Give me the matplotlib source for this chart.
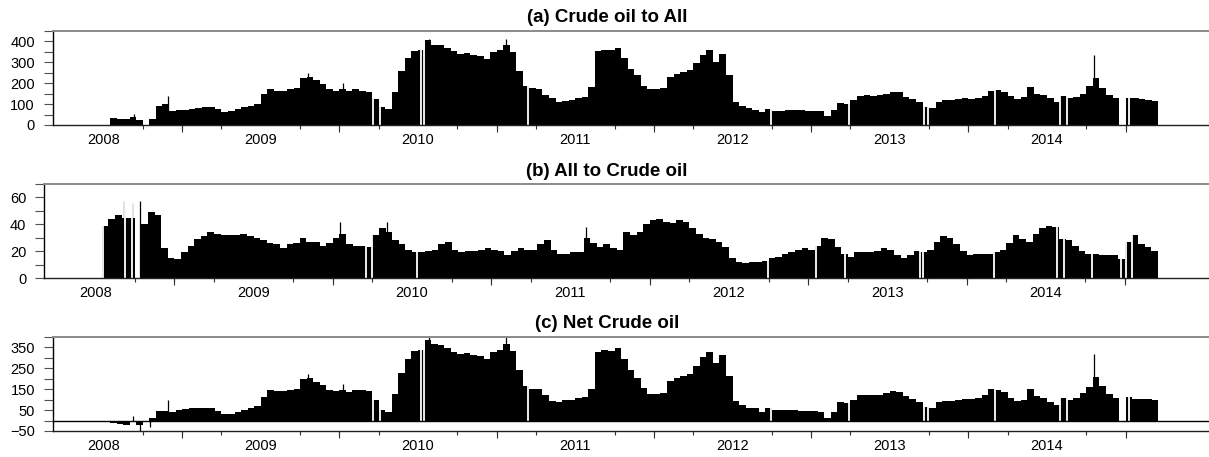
import numpy as np
import matplotlib
matplotlib.use("Agg")
import matplotlib.pyplot as plt
from matplotlib.ticker import FixedLocator

plt.rcParams['font.family'] = ['Liberation Sans', 'DejaVu Sans']

# ---- data: semi-monthly levels starting Jan 2008 (decimal-year grid, 24 per year) ----
start_year = 2008.0
per_year = 24

crude_to_all = [
    # 2008
    0, 35, 28, 30, 40, 25, 0, 30, 90, 100, 65, 70, 70, 78, 82, 85, 85, 75, 60, 65, 75, 85, 92, 100,
    # 2009
    150, 170, 165, 165, 170, 175, 225, 230, 215, 195, 170, 165, 170, 165, 170, 165, 160, 125, 85, 78, 160, 260, 320, 355,
    # 2010
    360, 405, 385, 385, 370, 355, 340, 345, 335, 330, 315, 350, 360, 385, 350, 260, 185, 175, 170, 145, 130, 112, 115, 120,
    # 2011
    130, 132, 180, 355, 360, 360, 370, 320, 270, 240, 185, 170, 170, 175, 230, 245, 255, 265, 295, 335, 360, 300, 340, 240,
    # 2012
    110, 90, 80, 70, 60, 78, 68, 68, 70, 72, 70, 68, 68, 65, 45, 70, 105, 100, 120, 140, 143, 140, 142, 150,
    # 2013
    160, 158, 135, 125, 110, 85, 80, 110, 120, 122, 125, 128, 125, 130, 140, 165, 168, 160, 140, 125, 135, 180, 150, 145,
    # 2014
    130, 110, 140, 130, 132, 150, 185, 225, 175, 145, 128, 0, 130, 128, 125, 122, 115,
]

all_to_crude = [
    # 2008
    0, 39, 44, 47, 45, 45, 0, 40, 49, 47, 22, 15, 14, 19, 24, 29, 31, 34, 33, 32, 32, 32, 33, 31,
    # 2009
    30, 28, 26, 25, 22, 25, 26, 30, 27, 27, 24, 26, 30, 33, 25, 24, 24, 23, 32, 37, 34, 28, 25, 21,
    # 2010
    19, 19, 20, 21, 25, 27, 21, 19, 20, 20, 21, 22, 21, 20, 17, 20, 22, 21, 21, 25, 28, 21, 18, 18,
    # 2011
    19, 19, 30, 26, 23, 25, 22, 21, 34, 32, 34, 40, 43, 44, 42, 41, 43, 42, 37, 33, 30, 29, 27, 23,
    # 2012
    15, 12, 11, 12, 12, 13, 15, 16, 18, 19, 21, 22, 21, 24, 30, 29, 23, 18, 16, 19, 19, 19, 20, 22,
    # 2013
    21, 17, 15, 17, 20, 19, 21, 27, 31, 30, 25, 20, 17, 18, 18, 18, 19, 21, 26, 32, 29, 27, 33, 37,
    # 2014
    39, 38, 29, 28, 24, 20, 18, 18, 17, 17, 17, 14, 27, 32, 25, 23, 20,
]

net_crude = [
    # 2008
    0, -10, -15, -20, -5, -22, -5, 10, 45, 45, 40, 50, 55, 58, 60, 60, 58, 45, 30, 33, 42, 52, 60, 70,
    # 2009
    115, 145, 140, 140, 148, 150, 200, 205, 185, 170, 145, 140, 145, 135, 148, 145, 140, 100, 50, 40, 125, 230, 295, 335,
    # 2010
    340, 388, 365, 362, 345, 330, 320, 325, 315, 310, 295, 328, 340, 365, 333, 240, 165, 152, 150, 122, 95, 90, 97, 100,
    # 2011
    108, 112, 150, 330, 338, 335, 348, 295, 240, 205, 155, 128, 125, 130, 190, 205, 212, 225, 260, 305, 328, 275, 312, 215,
    # 2012
    92, 75, 62, 58, 40, 62, 50, 50, 50, 50, 48, 46, 45, 40, 12, 40, 88, 85, 100, 120, 122, 120, 122, 130,
    # 2013
    140, 135, 118, 105, 88, 65, 60, 88, 92, 95, 100, 105, 105, 110, 120, 150, 148, 138, 110, 92, 100, 150, 118, 110,
    # 2014
    90, 75, 110, 100, 108, 130, 160, 210, 165, 125, 110, 0, 112, 105, 102, 102, 100,
]

# single-day peaks (decimal year, value)
a_spike_dates = [2008.196, 2008.411, 2009.30, 2009.522, 2010.07, 2010.56, 2014.297]
a_spike_vals = [52, 138, 250, 200, 413, 413, 333]
b_spike_dates = [2008.18, 2008.235, 2008.285, 2009.546, 2009.842, 2011.101]
b_spike_vals = [57, 56, 57, 42, 42, 38]
c_spike_dates = [2008.19, 2008.233, 2008.295, 2008.411, 2009.30, 2009.522, 2010.07, 2010.56, 2014.297]
c_spike_vals = [20, -50, -30, 100, 225, 175, 400, 400, 320]

# missing days (drawn as gaps)
ac_gap_dates = [2009.715, 2009.757, 2010.017, 2010.035, 2010.699, 2012.245, 2012.741,
                2013.219, 2013.244, 2013.67, 2014.082, 2014.124, 2014.52]
b_gap_dates = [2008.052, 2008.19, 2008.232, 2009.711, 2009.748, 2010.032, 2012.245, 2012.551,
               2012.73, 2013.208, 2013.225, 2013.674, 2014.071, 2014.113, 2014.292,
               2014.476, 2014.505, 2014.544]

year_labels = ['2008', '2009', '2010', '2011', '2012', '2013', '2014']
titles = ['(a) Crude oil to All', '(b) All to Crude oil', '(c) Net Crude oil']

# ---- figure ----
W, H = 1209, 457
fig = plt.figure(figsize=(W / 100, H / 100), dpi=100)

def frac(left_px, top_px, bottom_px):
    return [left_px / W, 1 - bottom_px / H, 1 - left_px / W, (bottom_px - top_px) / H]

ax_a = fig.add_axes(frac(52.7, 31, 125))
ax_b = fig.add_axes(frac(44, 184, 278))
ax_c = fig.add_axes(frac(52.7, 337, 431))

xlim = (2007.677, 2015.03)
years = [int(y) for y in year_labels]
quarters = [y + q for y in years for q in (0.25, 0.5, 0.75) if y + q <= 2014.5]
halves = [y + 0.5 for y in years if y + 0.5 <= 2014.5]

def draw(ax, vals, spike_x, spike_y, gaps, ylim, major, minor, title, title_y):
    vals = np.asarray(vals, dtype=float)
    n = len(vals)
    edges = start_year + np.arange(n + 1) / per_year
    ax.fill_between(edges, np.append(vals, vals[-1]), 0, step='post',
                    color='black', linewidth=0, antialiased=False)
    ax.vlines(spike_x, 0, spike_y, color='black', linewidth=0.9)
    lo = min(0, vals.min(), min(spike_y))
    hi = max(vals.max(), max(spike_y))
    ax.vlines(gaps, lo, hi, color='white', linewidth=1.3)
    ax.set_xlim(*xlim)
    ax.set_ylim(*ylim)
    ax.spines['right'].set_visible(False)
    ax.spines['top'].set_color('#8a8a8a')
    ax.spines['top'].set_linewidth(1.4)
    ax.spines['left'].set_color('black')
    ax.spines['left'].set_linewidth(1.0)
    ax.spines['bottom'].set_color('#202020')
    ax.spines['bottom'].set_linewidth(1.0)
    ax.set_xticks(years)
    ax.set_xticklabels(year_labels)
    ax.xaxis.set_minor_locator(FixedLocator(quarters))
    ax.tick_params(axis='x', which='major', length=0, pad=5.5, labelsize=10.5)
    ax.tick_params(axis='x', which='minor', length=2.6, width=0.8, color='#303030')
    sec = ax.secondary_xaxis('bottom')
    sec.set_xticks(halves)
    sec.set_xticklabels([])
    sec.tick_params(length=4.8, width=0.8, color='#303030')
    sec.spines['bottom'].set_visible(False)
    ax.yaxis.set_major_locator(FixedLocator(major))
    ax.yaxis.set_minor_locator(FixedLocator(minor))
    ax.tick_params(axis='y', which='both', length=6.3, width=0.8, color='#505050',
                   direction='out', pad=6.5, labelsize=10.5)
    fig.text(0.502, title_y, title, ha='center', va='center', fontsize=13.5, fontweight='bold')

draw(ax_a, crude_to_all, a_spike_dates, a_spike_vals, ac_gap_dates, (0, 450),
     [0, 100, 200, 300, 400], [50, 150, 250, 350, 450], titles[0], 1 - 17.5 / H)
draw(ax_b, all_to_crude, b_spike_dates, b_spike_vals, b_gap_dates, (0, 70),
     [0, 20, 40, 60], [10, 30, 50, 70], titles[1], 1 - 171 / H)
draw(ax_c, net_crude, c_spike_dates, c_spike_vals, ac_gap_dates, (-50, 400),
     [-50, 50, 150, 250, 350], [0, 100, 200, 300, 400], titles[2], 1 - 324 / H)
ax_c.axhline(0, color='black', linewidth=1.0)

fig.savefig('out.png', dpi=100)
